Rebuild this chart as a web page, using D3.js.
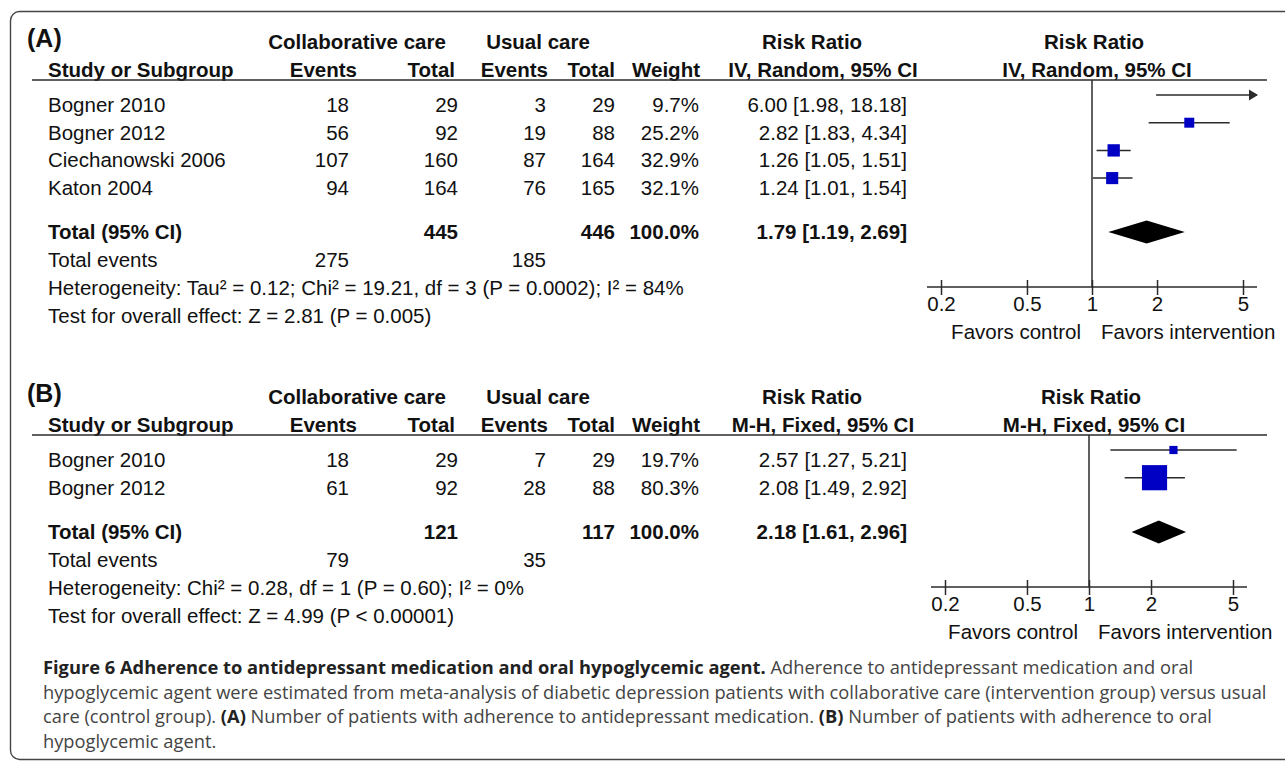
<!DOCTYPE html>
<html>
<head>
  <script src="https://cdn.jsdelivr.net/npm/d3@7"></script>
  <style>
    body { margin: 0; background: #fff; }
    svg text { font-family: "Liberation Sans", Arial, sans-serif; fill: #111; }
    .cap { font-family: "Open Sans", "Noto Sans", sans-serif; }
  </style>
</head>
<body>
<div id="fig"></div>
<script>
  // panel A: adherence to antidepressant medication (IV, Random)
  var studiesA = ['Bogner 2010', 'Bogner 2012', 'Ciechanowski 2006', 'Katon 2004'];
  var evCollabA = [18, 56, 107, 94];
  var totCollabA = [29, 92, 160, 164];
  var evUsualA = [3, 19, 87, 76];
  var totUsualA = [29, 88, 164, 165];
  var weightA = [9.7, 25.2, 32.9, 32.1];
  var rrA = [6.00, 2.82, 1.26, 1.24];
  var loA = [1.98, 1.83, 1.05, 1.01];
  var hiA = [18.18, 4.34, 1.51, 1.54];
  var totalA = {collab: 445, usual: 446, evCollab: 275, evUsual: 185, rr: 1.79, lo: 1.19, hi: 2.69};
  var hetA = 'Heterogeneity: Tau\u00b2 = 0.12; Chi\u00b2 = 19.21, df = 3 (P = 0.0002); I\u00b2 = 84%';
  var testA = 'Test for overall effect: Z = 2.81 (P = 0.005)';

  // panel B: adherence to oral hypoglycemic agent (M-H, Fixed)
  var studiesB = ['Bogner 2010', 'Bogner 2012'];
  var evCollabB = [18, 61];
  var totCollabB = [29, 92];
  var evUsualB = [7, 28];
  var totUsualB = [29, 88];
  var weightB = [19.7, 80.3];
  var rrB = [2.57, 2.08];
  var loB = [1.27, 1.49];
  var hiB = [5.21, 2.92];
  var totalB = {collab: 121, usual: 117, evCollab: 79, evUsual: 35, rr: 2.18, lo: 1.61, hi: 2.96};
  var hetB = 'Heterogeneity: Chi\u00b2 = 0.28, df = 1 (P = 0.60); I\u00b2 = 0%';
  var testB = 'Test for overall effect: Z = 4.99 (P < 0.00001)';

  var ticks = [0.2, 0.5, 1, 2, 5];

  var W = 1285, H = 764;
  var svg = d3.select('#fig').append('svg')
      .attr('width', W)
      .attr('height', H);

  // outer frame, right edge runs off the page
  svg.append('rect')
      .attr('x', 10.5).attr('y', 11.5)
      .attr('width', 1320).attr('height', 748)
      .attr('rx', 9)
      .attr('fill', 'none')
      .attr('stroke', '#444')
      .attr('stroke-width', 1.4);

  var sizeScale = d3.scalePow().exponent(0.8).domain([0, 100]).range([0, 30]);
  var ink = '#2b2b2b';

  function fmt(v) { return d3.format('.2f')(v); }
  function ciText(r, l, h) { return fmt(r) + ' [' + fmt(l) + ', ' + fmt(h) + ']'; }

  function panel(opt) {
    var g = svg.append('g').attr('transform', 'translate(0,' + opt.top + ')');
    var fs = 20.5;

    // column anchors (right edges)
    var col = {study: 48, evC: 349, totC: 458, evU: 546, totU: 615, wt: 699, ci: 907};
    var x = d3.scaleLog().domain([0.2, 5]).range([opt.x1 - opt.half, opt.x1 + opt.half]);
    var xMax = x(5) + 14;

    function txt(s, xx, yy, anchor, bold, size) {
      return g.append('text')
          .attr('x', xx).attr('y', yy)
          .attr('text-anchor', anchor || 'start')
          .attr('font-weight', bold ? 'bold' : 'normal')
          .attr('font-size', size || fs)
          .text(s);
    }

    // header
    txt(opt.label, 27, 36, 'start', true, 25);
    txt('Collaborative care', 357, 38, 'middle', true);
    txt('Usual care', 538, 38, 'middle', true);
    txt('Risk Ratio', 812, 38, 'middle', true);
    txt('Risk Ratio', x(1) + 2, 38, 'middle', true);

    txt('Study or Subgroup', col.study, 66, 'start', true);
    txt('Events', 357, 66, 'end', true);
    txt('Total', 455, 66, 'end', true);
    txt('Events', 548, 66, 'end', true);
    txt('Total', col.totU, 66, 'end', true);
    txt('Weight', col.wt + 1, 66, 'end', true);
    txt(opt.method, 823, 66, 'middle', true);
    txt(opt.method, x(1) + 5, 66, 'middle', true);

    g.append('line')
        .attr('x1', 32).attr('x2', 1267)
        .attr('y1', 69).attr('y2', 69)
        .attr('stroke', ink).attr('stroke-width', 1.5);

    // study rows: marks sit level with the cap line of the row text
    var rowY = d3.scalePoint().domain(opt.studies)
        .range([84, 84 + 27.7 * (opt.studies.length - 1)]);
    opt.studies.forEach(function(s, i) {
      var yy = rowY(s) + 17;
      txt(s, col.study, yy);
      txt(opt.evC[i], col.evC, yy, 'end');
      txt(opt.totC[i], col.totC, yy, 'end');
      txt(opt.evU[i], col.evU, yy, 'end');
      txt(opt.totU[i], col.totU, yy, 'end');
      txt(opt.wt[i].toFixed(1) + '%', col.wt, yy, 'end');
      txt(ciText(opt.rr[i], opt.lo[i], opt.hi[i]), col.ci, yy, 'end');
    });

    var yTot = opt.totY;
    txt('Total (95% CI)', col.study, yTot + 7, 'start', true);
    txt(opt.total.collab, col.totC, yTot + 7, 'end', true);
    txt(opt.total.usual, col.totU, yTot + 7, 'end', true);
    txt('100.0%', col.wt, yTot + 7, 'end', true);
    txt(ciText(opt.total.rr, opt.total.lo, opt.total.hi), col.ci, yTot + 7, 'end', true);

    txt('Total events', col.study, yTot + 35);
    txt(opt.total.evCollab, col.evC, yTot + 35, 'end');
    txt(opt.total.evUsual, col.evU, yTot + 35, 'end');
    txt(opt.het, col.study, yTot + 63);
    txt(opt.test, col.study, yTot + 91);

    // forest plot
    var axisY = yTot + 55;
    g.append('line')
        .attr('x1', x(1)).attr('x2', x(1))
        .attr('y1', 69).attr('y2', axisY)
        .attr('stroke', ink).attr('stroke-width', 1.5);

    var axis = d3.axisBottom(x).tickValues(ticks).tickSize(0).tickFormat(d3.format('~g'));
    var ag = g.append('g').attr('transform', 'translate(0,' + axisY + ')').call(axis);
    ag.select('.domain').remove();
    ag.append('line')
        .attr('x1', x(0.2) - 14).attr('x2', xMax)
        .attr('stroke', ink).attr('stroke-width', 1.5);
    ag.selectAll('.tick').append('line')
        .attr('y1', -7).attr('y2', 8)
        .attr('stroke', ink).attr('stroke-width', 1.5);
    ag.selectAll('.tick text')
        .attr('y', 9)
        .attr('font-size', fs)
        .attr('font-family', '"Liberation Sans", Arial, sans-serif')
        .attr('fill', '#111');

    txt('Favors control', x(1) - 11, axisY + 52, 'end');
    txt('Favors intervention', x(1) + 9, axisY + 52, 'start');

    // CI lines, squares and the off-scale arrow
    opt.studies.forEach(function(s, i) {
      var yy = rowY(s);
      var x1 = x(opt.lo[i]);
      var x2 = Math.min(x(opt.hi[i]), xMax);
      g.append('line')
          .attr('x1', x1).attr('x2', x2)
          .attr('y1', yy).attr('y2', yy)
          .attr('stroke', ink).attr('stroke-width', 1.5);
      if (x(opt.hi[i]) > xMax) {
        g.append('path')
            .attr('d', 'M' + (xMax + 1) + ',' + yy + 'l-9,-5.5v11z')
            .attr('fill', ink);
      }
      if (x(opt.rr[i]) <= xMax) {
        var sz = sizeScale(opt.wt[i]);
        g.append('rect')
            .attr('x', x(opt.rr[i]) - sz / 2)
            .attr('y', yy - sz / 2)
            .attr('width', sz).attr('height', sz)
            .attr('fill', '#0000c4');
      }
    });

    // pooled diamond
    g.append('path')
        .attr('d', 'M' + x(opt.total.lo) + ',' + yTot +
                   'L' + x(opt.total.rr) + ',' + (yTot - 11.5) +
                   'L' + x(opt.total.hi) + ',' + yTot +
                   'L' + x(opt.total.rr) + ',' + (yTot + 11.5) + 'Z')
        .attr('fill', '#000');
  }

  panel({
    top: 11, label: '(A)', method: 'IV, Random, 95% CI', x1: 1092, half: 151,
    studies: studiesA, evC: evCollabA, totC: totCollabA, evU: evUsualA, totU: totUsualA,
    wt: weightA, rr: rrA, lo: loA, hi: hiA, total: totalA, het: hetA, test: testA,
    totY: 221
  });

  panel({
    top: 366, label: '(B)', method: 'M-H, Fixed, 95% CI', x1: 1089, half: 144,
    studies: studiesB, evC: evCollabB, totC: totCollabB, evU: evUsualB, totU: totUsualB,
    wt: weightB, rr: rrB, lo: loB, hi: hiB, total: totalB, het: hetB, test: testB,
    totY: 166
  });

  // caption
  var capLines = [
    [['Figure 6 Adherence to antidepressant medication and oral hypoglycemic agent.', true],
     [' Adherence to antidepressant medication and oral', false]],
    [['hypoglycemic agent were estimated from meta-analysis of diabetic depression patients with collaborative care (intervention group) versus usual', false]],
    [['care (control group). ', false], ['(A)', true], [' Number of patients with adherence to antidepressant medication. ', false],
     ['(B)', true], [' Number of patients with adherence to oral', false]],
    [['hypoglycemic agent.', false]]
  ];
  capLines.forEach(function(parts, i) {
    var t = svg.append('text')
        .attr('class', 'cap')
        .attr('x', 43)
        .attr('y', 674 + i * 24.7)
        .attr('font-size', 18.3);
    parts.forEach(function(p) {
      t.append('tspan')
          .attr('font-weight', p[1] ? 'bold' : 'normal')
          .attr('fill', p[1] ? '#222' : '#444')
          .text(p[0]);
    });
  });
</script>
</body>
</html>
